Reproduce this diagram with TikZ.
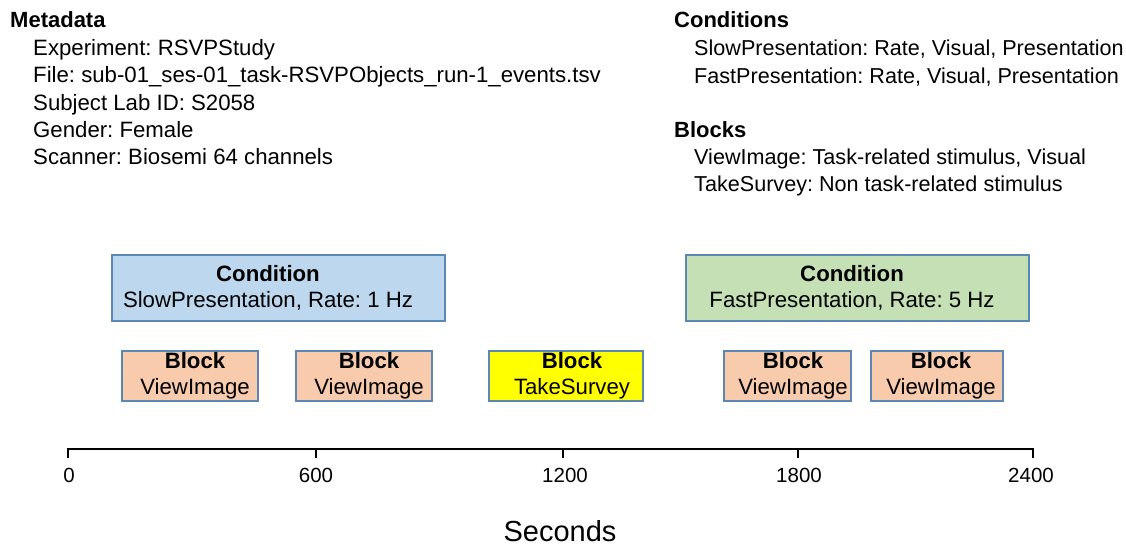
\documentclass[tikz,border=0pt]{standalone}
\usepackage{fontspec}
\setmainfont{Liberation Sans}
\frenchspacing
\definecolor{edgeblue}{HTML}{5B86B5}
\definecolor{condblue}{HTML}{BDD7EE}
\definecolor{condgreen}{HTML}{C5E0B4}
\definecolor{blockorange}{HTML}{F8CBAD}
\definecolor{blockyellow}{HTML}{FFFF00}
\tikzset{
  txt/.style={anchor=base west, inner sep=0pt, font=\fontsize{22.2}{26}\selectfont},
  rtxt/.style={anchor=base west, inner sep=0pt, font=\fontsize{21.6}{26}\selectfont},
  head/.style={txt, font=\fontsize{22}{26}\selectfont\bfseries},
  boxbase/.style={draw=edgeblue, line width=1.2pt, inner sep=0pt},
  boxtext/.style={inner sep=0pt, align=center, font=\fontsize{22.2}{26.5}\selectfont},
  ticklab/.style={inner sep=0pt, font=\fontsize{20.5}{24}\selectfont},
  axisline/.style={line width=2.2pt},
}
\begin{document}
\begin{tikzpicture}[x=1pt,y=-1pt]
\useasboundingbox (0,0) rectangle (1126,548);
% Metadata
\node[head] (mh) at (10,28) {Metadata};
\node[txt] (m1) at (33,56) {Experiment: RSVPStudy};
\node[txt] (m2) at (33,83) {File: sub-01\_ses-01\_task-RSVPObjects\_run-1\_events.tsv};
\node[txt] (m3) at (33,111) {Subject Lab ID: S2058};
\node[txt] (m4) at (33,138) {Gender: Female};
\node[txt] (m5) at (33,165) {Scanner: Biosemi 64 channels};
% Conditions
\node[head] (ch) at (674,28) {Conditions};
\node[rtxt] (c1) at (694,56) {SlowPresentation: Rate, Visual, Presentation};
\node[rtxt] (c2) at (694,84) {FastPresentation: Rate, Visual, Presentation};
% Blocks
\node[head] (bh) at (674,138) {Blocks};
\node[rtxt] (b1) at (694,165) {ViewImage: Task-related stimulus, Visual};
\node[rtxt] (b2) at (694,192) {TakeSurvey: Non task-related stimulus};
% Condition boxes
\draw[boxbase, fill=condblue] (112,255) rectangle (445,321);
\node[boxtext] (cond1) at (268,288) {\textbf{Condition}\\SlowPresentation, Rate: 1 Hz};
\draw[boxbase, fill=condgreen] (686,255) rectangle (1029,321);
\node[boxtext] (cond2) at (852,288) {\textbf{Condition}\\FastPresentation, Rate: 5 Hz};
% Block boxes
\draw[boxbase, fill=blockorange] (122,351) rectangle (258,401);
\node[boxtext] (blk1) at (195,376) {\textbf{Block}\\ViewImage};
\draw[boxbase, fill=blockorange] (296,351) rectangle (432,401);
\node[boxtext] (blk2) at (369,376) {\textbf{Block}\\ViewImage};
\draw[boxbase, fill=blockyellow] (489,351) rectangle (643,401);
\node[boxtext] (blk3) at (572,376) {\textbf{Block}\\TakeSurvey};
\draw[boxbase, fill=blockorange] (724,351) rectangle (851,401);
\node[boxtext] (blk4) at (793,376) {\textbf{Block}\\ViewImage};
\draw[boxbase, fill=blockorange] (871,351) rectangle (1003,401);
\node[boxtext] (blk5) at (941,376) {\textbf{Block}\\ViewImage};
% Axis
\coordinate (a0) at (68,449);
\coordinate (a4) at (1033,449);
\draw[axisline] (68,458) -- (a0) -- (a4) -- (1033,458);
\foreach \x in {316,563,798} {
  \draw[axisline] (\x,449) -- (\x,458);
}
\node[ticklab] (l0) at (69,475) {0};
\node[ticklab] (l1) at (316,475) {600};
\node[ticklab] (l2) at (565,475) {1200};
\node[ticklab] (l3) at (799,475) {1800};
\node[ticklab] (l4) at (1031,475) {2400};
\node[inner sep=0pt, font=\fontsize{29}{32}\selectfont] (xl) at (560,531) {Seconds};
\end{tikzpicture}
\end{document}
